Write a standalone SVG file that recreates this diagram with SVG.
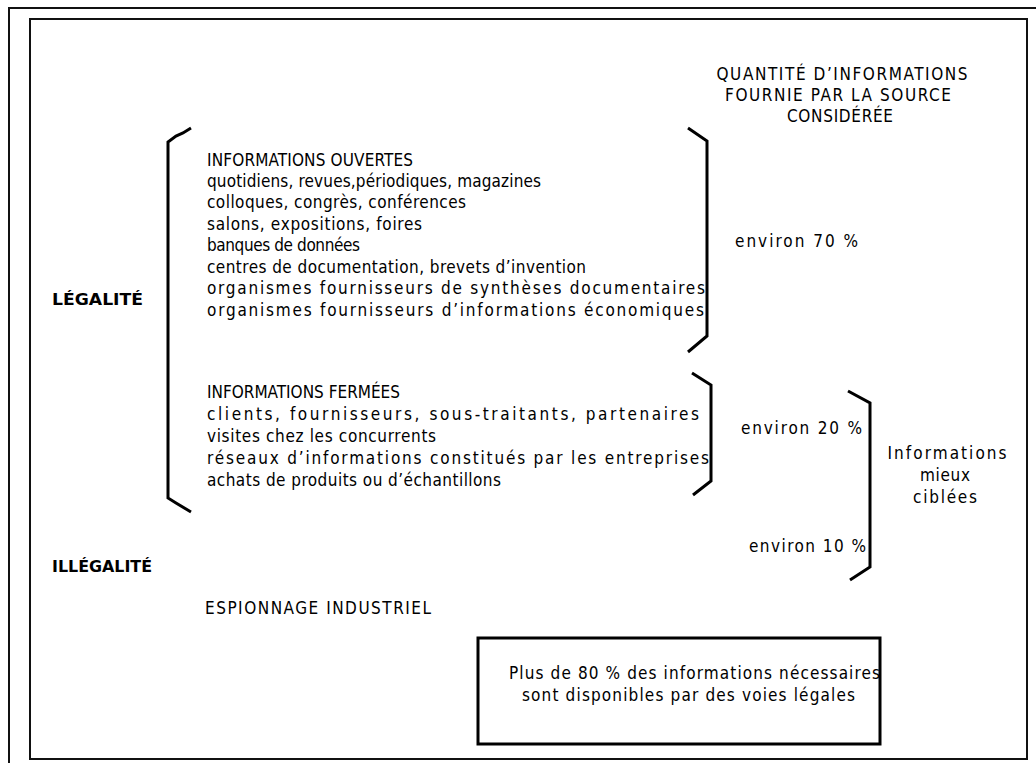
<svg xmlns="http://www.w3.org/2000/svg" width="1036" height="763" viewBox="0 0 1036 763">
<style>
text{font-family:"DejaVu Sans Condensed","DejaVu Sans","Liberation Sans",sans-serif;font-stretch:condensed;font-size:17px;fill:#000}
.b{font-family:"DejaVu Sans","Liberation Sans",sans-serif;font-stretch:normal;font-weight:bold;font-size:16px}
.m{text-anchor:middle}
.br{fill:none;stroke:#000;stroke-width:3;stroke-linejoin:miter}
.fr{fill:none;stroke:#111;stroke-width:2}
</style>
<rect width="1036" height="763" fill="#fff"/>
<g id="frame">
<path class="fr" d="M1036 8 H9 V763"/>
<rect class="fr" x="30" y="19" width="997" height="740"/>
</g>
<g id="header">
<text x="842" y="80" class="m" textLength="251" lengthAdjust="spacing">QUANTITÉ D’INFORMATIONS</text>
<text x="838" y="101" class="m" textLength="226" lengthAdjust="spacing">FOURNIE PAR LA SOURCE</text>
<text x="840" y="122" class="m" textLength="106" lengthAdjust="spacing">CONSIDÉRÉE</text>
</g>
<g id="legalite"><text class="b" x="52" y="305" textLength="91" lengthAdjust="spacingAndGlyphs">LÉGALITÉ</text></g>
<g id="illegalite"><text class="b" x="52" y="572" textLength="100" lengthAdjust="spacingAndGlyphs">ILLÉGALITÉ</text></g>
<g id="ouvertes">
<text x="207" y="166" textLength="206" lengthAdjust="spacing">INFORMATIONS OUVERTES</text>
<text x="207" y="187" textLength="334" lengthAdjust="spacing">quotidiens, revues,périodiques, magazines</text>
<text x="207" y="208" textLength="259" lengthAdjust="spacing">colloques, congrès, conférences</text>
<text x="207" y="230" textLength="215" lengthAdjust="spacing">salons, expositions, foires</text>
<text x="207" y="251" textLength="153" lengthAdjust="spacing">banques de données</text>
<text x="207" y="273" textLength="379" lengthAdjust="spacing">centres de documentation, brevets d’invention</text>
<text x="207" y="294" textLength="498" lengthAdjust="spacing">organismes fournisseurs de synthèses documentaires</text>
<text x="207" y="316" textLength="497" lengthAdjust="spacing">organismes fournisseurs d’informations économiques</text>
</g>
<g id="fermees">
<text x="207" y="398" textLength="193" lengthAdjust="spacing">INFORMATIONS FERMÉES</text>
<text x="207" y="420" textLength="492" lengthAdjust="spacing">clients, fournisseurs, sous-traitants, partenaires</text>
<text x="207" y="442" textLength="229" lengthAdjust="spacing">visites chez les concurrents</text>
<text x="207" y="464" textLength="502" lengthAdjust="spacing">réseaux d’informations constitués par les entreprises</text>
<text x="207" y="486" textLength="294" lengthAdjust="spacing">achats de produits ou d’échantillons</text>
</g>
<g id="espionnage"><text x="205" y="614" textLength="226" lengthAdjust="spacing">ESPIONNAGE INDUSTRIEL</text></g>
<g id="pct70"><text x="735" y="247" textLength="123" lengthAdjust="spacing">environ 70 %</text></g>
<g id="pct20"><text x="741" y="434" textLength="121" lengthAdjust="spacing">environ 20 %</text></g>
<g id="pct10"><text x="749" y="552" textLength="117" lengthAdjust="spacing">environ 10 %</text></g>
<g id="cibles">
<text x="947" y="459" class="m" textLength="119" lengthAdjust="spacing">Informations</text>
<text x="945" y="481" class="m" textLength="50" lengthAdjust="spacing">mieux</text>
<text x="945" y="503" class="m" textLength="64" lengthAdjust="spacing">ciblées</text>
</g>
<g id="conclusion">
<rect x="478" y="638" width="402" height="106" fill="none" stroke="#000" stroke-width="3"/>
<text x="509" y="679" textLength="371" lengthAdjust="spacing">Plus de 80 % des informations nécessaires</text>
<text x="522" y="701" textLength="333" lengthAdjust="spacing">sont disponibles par des voies légales</text>
</g>
<g id="connectors">
<path class="br" d="M191 128 L183 133 L176 136 L168 142 V498 L176 503 L191 512"/>
<path class="br" d="M688 128 L707 141 V336 L688 352"/>
<path class="br" d="M692 373 L711 385 V481 L693 495"/>
<path class="br" d="M848 391 L870 403 V567 L850 580"/>
</g>
</svg>
